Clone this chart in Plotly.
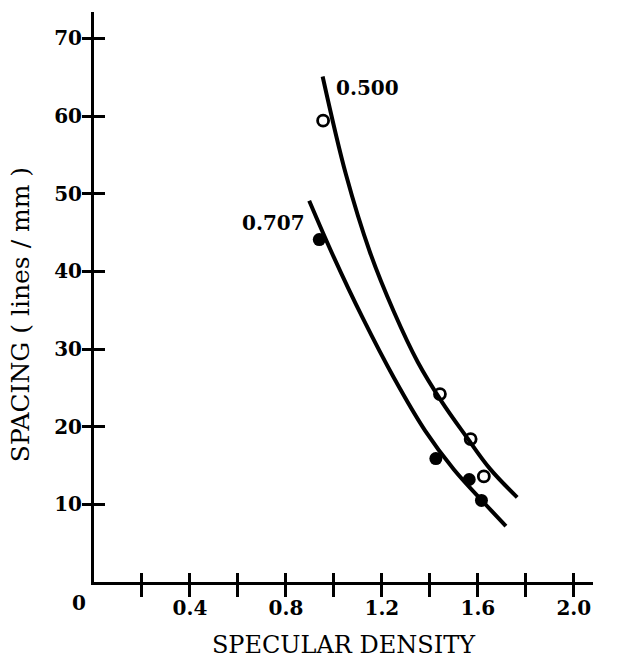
import plotly.graph_objects as go

# ---- data ----
open_x = [0.955, 1.442, 1.570, 1.625]          # series 0.500 (open circles)
open_y = [59.4, 24.2, 18.4, 13.6]
filled_x = [0.939, 1.425, 1.564, 1.615]        # series 0.707 (filled circles)
filled_y = [44.1, 15.9, 13.2, 10.5]

curve500_x = [0.953, 1.05, 1.15, 1.25, 1.35, 1.45, 1.55, 1.65, 1.764]
curve500_y = [65.1, 52.5, 42.5, 34.8, 28.3, 23.2, 18.8, 14.6, 10.9]
curve707_x = [0.897, 1.00, 1.12, 1.25, 1.38, 1.50, 1.62, 1.717]
curve707_y = [49.1, 41.8, 34.0, 26.3, 19.5, 14.5, 10.4, 7.2]

x_tickvals = [0.2, 0.4, 0.6, 0.8, 1.0, 1.2, 1.4, 1.6, 1.8, 2.0]
x_ticktext = ["", "0.4", "", "0.8", "", "1.2", "", "1.6", "", "2.0"]
y_tickvals = [10, 20, 30, 40, 50, 60, 70]
y_ticktext = ["10", "20", "30", "40", "50", "60", "70"]

labels = ["0.500", "0.707"]
x_title = "SPECULAR DENSITY"
y_title = "SPACING ( lines / mm )"

FONT = "DejaVu Serif"
XR = [0, 2.08]
YR = [0, 73.4]

fig = go.Figure()
fig.add_trace(go.Scatter(x=curve500_x, y=curve500_y, mode="lines",
                         line=dict(color="black", width=4, shape="spline", smoothing=1.0),
                         hoverinfo="skip", showlegend=False))
fig.add_trace(go.Scatter(x=curve707_x, y=curve707_y, mode="lines",
                         line=dict(color="black", width=4, shape="spline", smoothing=1.0),
                         hoverinfo="skip", showlegend=False))
fig.add_trace(go.Scatter(x=open_x, y=open_y, mode="markers", name=labels[0],
                         marker=dict(symbol="circle-open", size=11, color="black",
                                     line=dict(width=2.8, color="black")),
                         showlegend=False))
fig.add_trace(go.Scatter(x=filled_x, y=filled_y, mode="markers", name=labels[1],
                         marker=dict(symbol="circle", size=13, color="black"),
                         showlegend=False))
# invisible trace to realise overlay axes (inner halves of the crossing ticks)
fig.add_trace(go.Scatter(x=[None], y=[None], xaxis="x2", yaxis="y2",
                         mode="markers", showlegend=False, hoverinfo="skip"))

tickfont = dict(family=FONT, size=20, color="black", weight="bold")
titlefont = dict(family=FONT, size=24, color="black")

fig.update_layout(
    width=640, height=660,
    margin=dict(l=94, r=47, t=12, b=78),
    paper_bgcolor="white", plot_bgcolor="white",
    font=dict(family=FONT, color="black"),
    xaxis=dict(range=XR, showgrid=False, zeroline=False, automargin=False,
               showline=True, linewidth=3, linecolor="black",
               ticks="outside", ticklen=12, tickwidth=3, tickcolor="black",
               tickvals=x_tickvals, ticktext=x_ticktext, tickfont=tickfont,
               ticklabelstandoff=-6,
               title=dict(text=x_title, font=titlefont, standoff=18)),
    yaxis=dict(range=YR, showgrid=False, zeroline=False, automargin=False,
               showline=True, linewidth=3, linecolor="black",
               ticks="outside", ticklen=9, tickwidth=3, tickcolor="black",
               tickvals=y_tickvals, ticktext=y_ticktext, tickfont=tickfont,
               ticklabelstandoff=-4),
    xaxis2=dict(range=XR, overlaying="x", anchor="y", side="bottom", automargin=False,
                showgrid=False, zeroline=False, showline=False,
                ticks="inside", ticklen=9, tickwidth=3, tickcolor="black",
                tickvals=x_tickvals, showticklabels=False),
    yaxis2=dict(range=YR, overlaying="y", anchor="x", side="left", automargin=False,
                showgrid=False, zeroline=False, showline=False,
                ticks="inside", ticklen=11, tickwidth=3, tickcolor="black",
                tickvals=y_tickvals, showticklabels=False),
    annotations=[
        dict(x=0, y=0, xref="x", yref="y", text="0", showarrow=False,
             xanchor="center", yanchor="top", xshift=-15, yshift=-7,
             font=tickfont),
        dict(x=curve500_x[0], y=curve500_y[0], xref="x", yref="y", text=labels[0],
             showarrow=False, xanchor="left", yanchor="top", xshift=11, yshift=2,
             font=tickfont),
        dict(x=curve707_x[0], y=curve707_y[0], xref="x", yref="y", text=labels[1],
             showarrow=False, xanchor="right", yanchor="top", xshift=-2, yshift=-8,
             font=tickfont),
        dict(x=0, y=0.468, xref="paper", yref="paper", text=y_title, textangle=-90,
             showarrow=False, xanchor="center", yanchor="middle", xshift=-74,
             font=dict(family=FONT, size=25, color="black")),
    ],
)

fig.write_html("out.html")
